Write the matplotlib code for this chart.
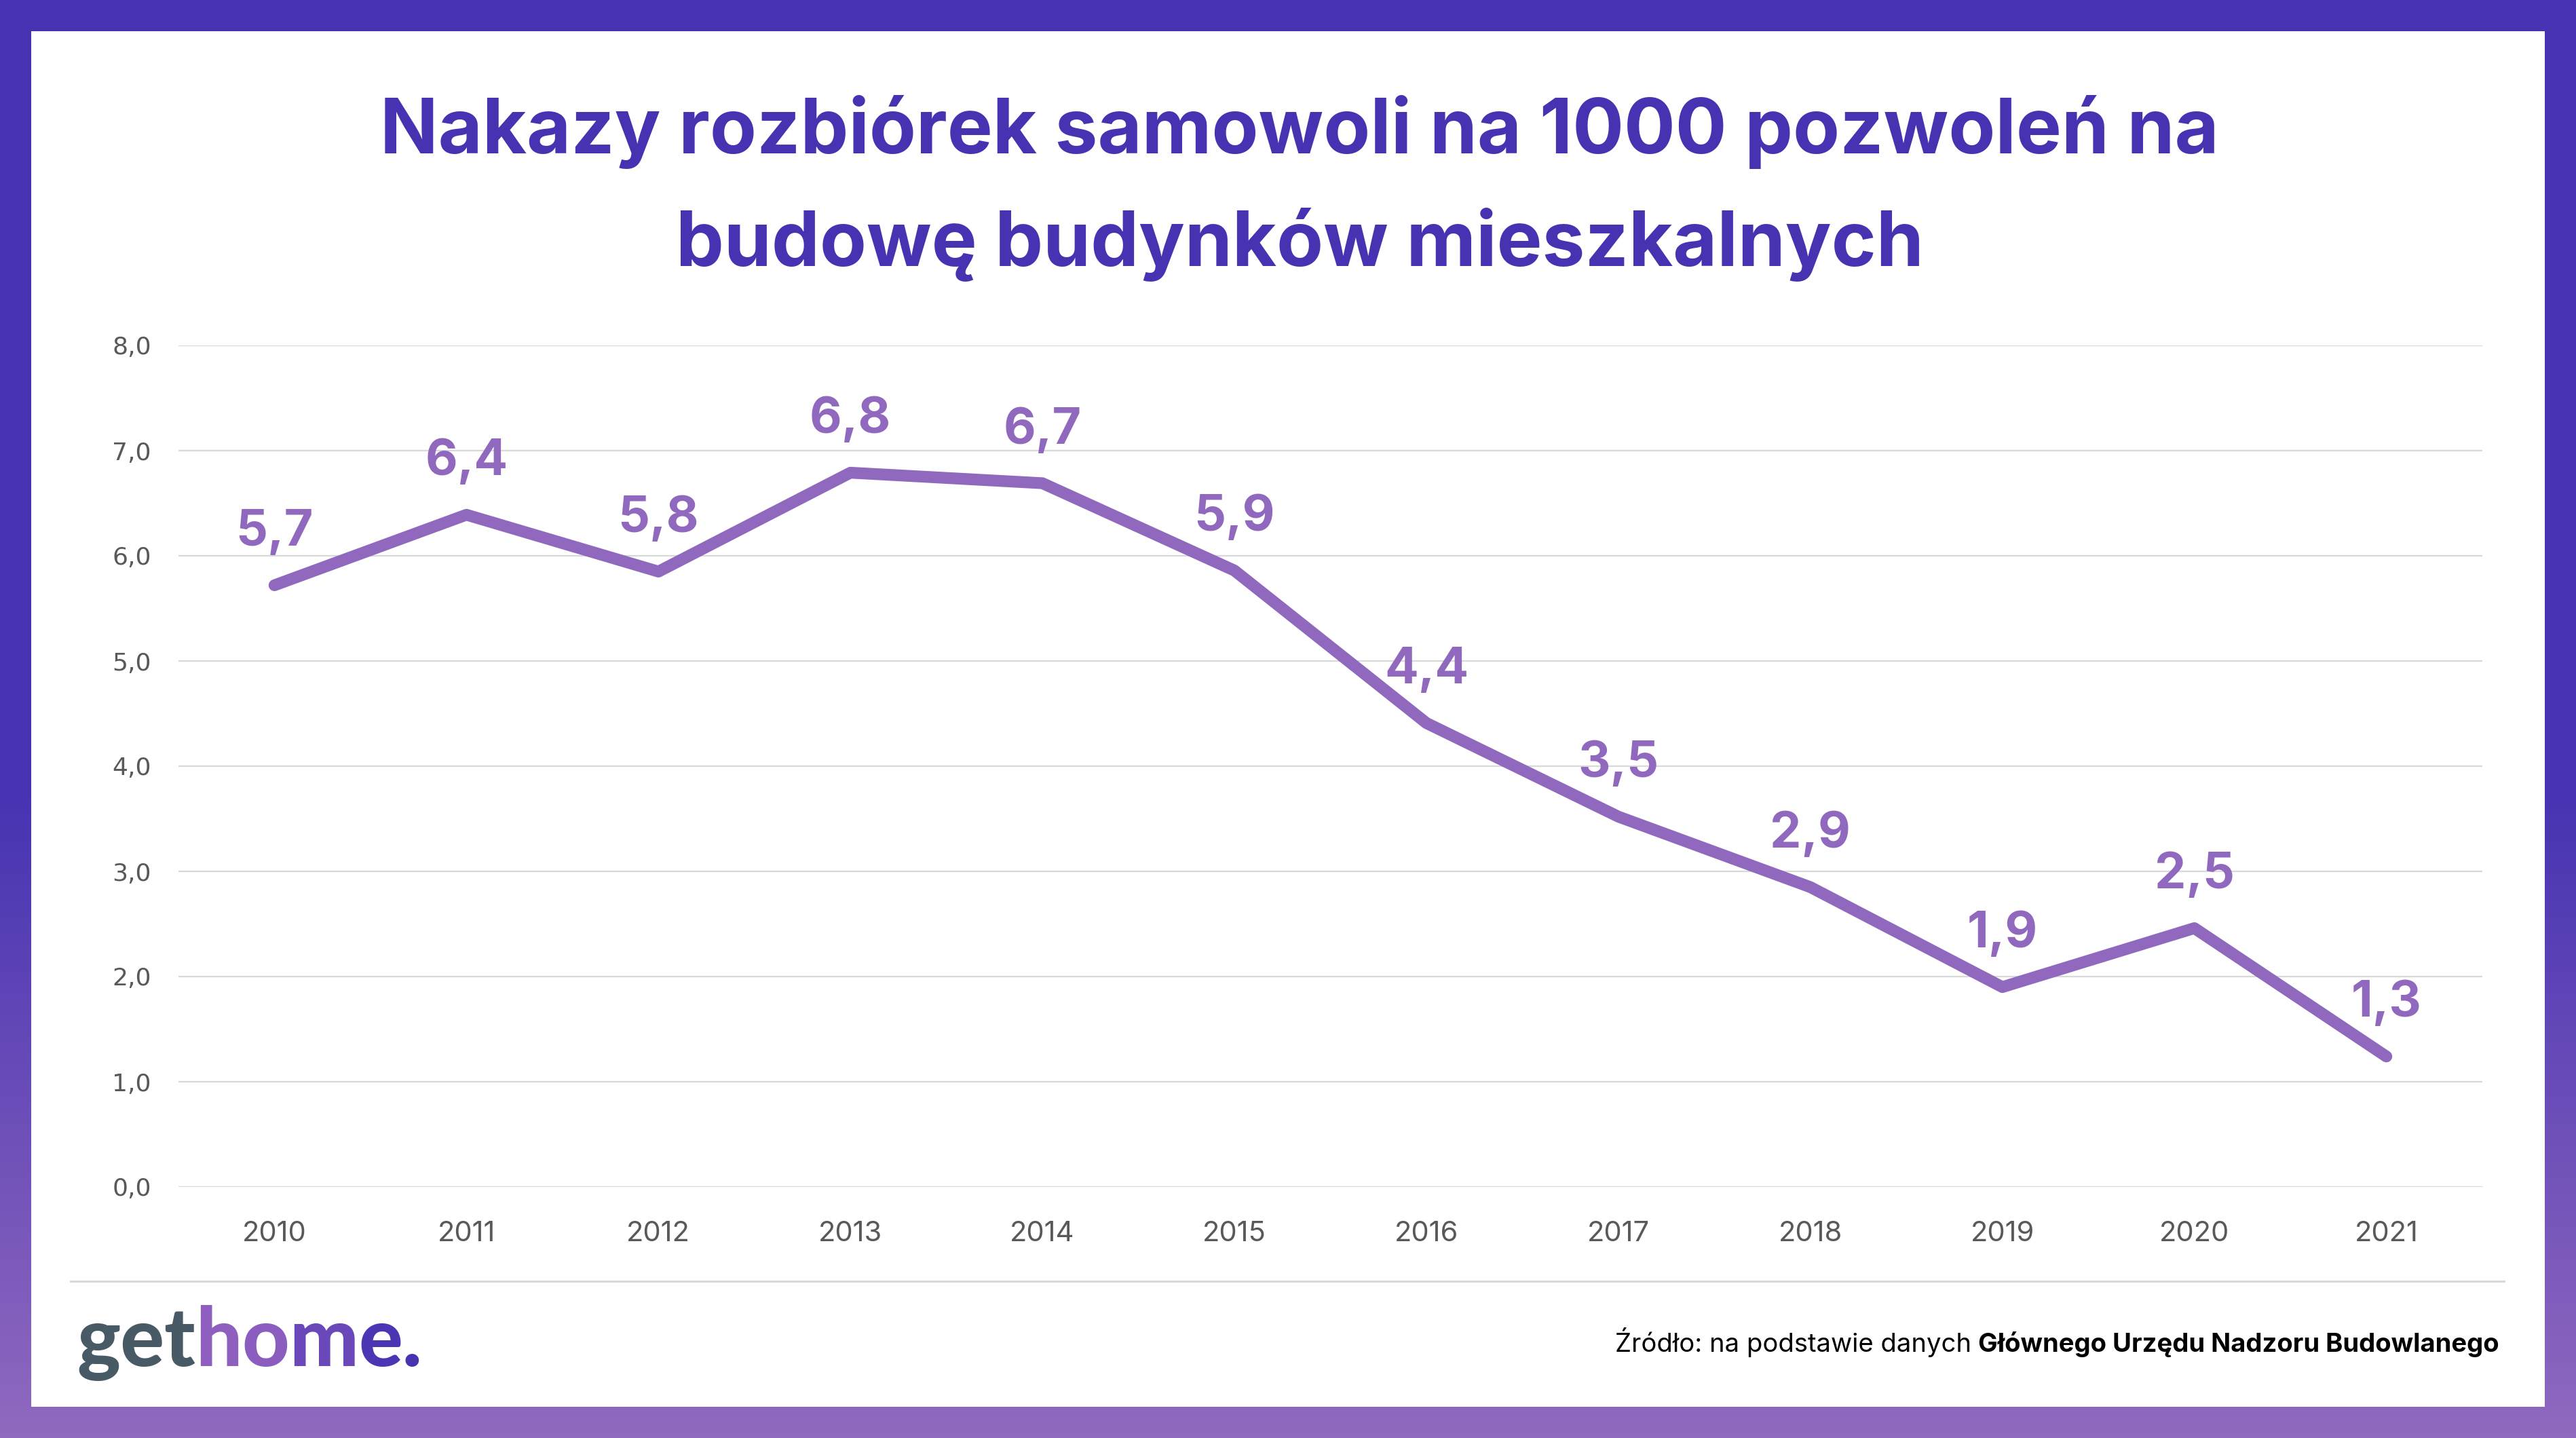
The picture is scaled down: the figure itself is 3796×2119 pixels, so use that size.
import numpy as np
import matplotlib
matplotlib.use("Agg")
import matplotlib.pyplot as plt
from matplotlib.colors import LinearSegmentedColormap
from matplotlib.patches import Rectangle

# data
years = ['2010', '2011', '2012', '2013', '2014', '2015',
         '2016', '2017', '2018', '2019', '2020', '2021']
values = [5.72, 6.39, 5.85, 6.79, 6.69, 5.86, 4.41, 3.52, 2.85, 1.90, 2.46, 1.24]
value_labels = ['5,7', '6,4', '5,8', '6,8', '6,7', '5,9',
                '4,4', '3,5', '2,9', '1,9', '2,5', '1,3']
yticks = [0, 1, 2, 3, 4, 5, 6, 7, 8]
ytick_labels = ['0,0', '1,0', '2,0', '3,0', '4,0', '5,0', '6,0', '7,0', '8,0']

title_lines = ['Nakazy rozbiórek samowoli na 1000 pozwoleń na',
               'budowę budynków mieszkalnych']
source_regular = 'Źródło: na podstawie danych '
source_bold = 'Głównego Urzędu Nadzoru Budowlanego'

W, H = 3796, 2119
DPI = 100
LINE_COLOR = '#9069bf'
TITLE_COLOR = '#4733b2'

fig = plt.figure(figsize=(W / DPI, H / DPI), dpi=DPI)

# gradient frame + white card
bg = fig.add_axes([0, 0, 1, 1], zorder=-10)
cmap = LinearSegmentedColormap.from_list(
    'frame', [(0, '#4733b2'), (0.55, '#4733b2'), (1, '#9069bf')])
grad = np.linspace(0, 1, H).reshape(-1, 1)
bg.imshow(grad, aspect='auto', cmap=cmap, extent=[0, W, 0, H], origin='upper')
bg.add_patch(Rectangle((46, 46), W - 92, H - 92, color='white', lw=0))
bg.plot([104, 3690], [H - 1888, H - 1888], color='#d9d9d9', lw=2.2)
bg.set_xlim(0, W)
bg.set_ylim(0, H)
bg.axis('off')

# main chart
ax = fig.add_axes([263 / W, (H - 1749) / H, 3395 / W, 1240 / H])
ax.patch.set_visible(False)
x = np.arange(len(years))
ax.plot(x, values, color=LINE_COLOR, lw=12.5,
        solid_capstyle='round', solid_joinstyle='round', zorder=3)
ax.set_xlim(-0.5, len(years) - 0.5)
ax.set_ylim(0, 8)
ax.set_yticks(yticks)
ax.set_yticklabels(ytick_labels, fontsize=26, color='#595959', family='DejaVu Sans')
ax.set_xticks(x)
ax.set_xticklabels(years, fontsize=30, color='#595959', family='Inter')
ax.tick_params(axis='y', length=0, pad=29)
ax.tick_params(axis='x', length=0, pad=36)
ax.yaxis.grid(True, color='#d9d9d9', lw=1.6)
ax.set_axisbelow(True)
for s in ax.spines.values():
    s.set_visible(False)

for xi, v, lab in zip(x, values, value_labels):
    ax.annotate(lab, (xi, v), xytext=(0, 42), textcoords='offset points',
                ha='center', va='baseline', fontsize=53, fontweight='bold',
                color=LINE_COLOR, family='Inter')

# title
fig.text(1915 / W, 1 - 226 / H, title_lines[0], ha='center', va='baseline',
         fontsize=81, fontweight='bold', color=TITLE_COLOR, family='Inter')
fig.text(1915 / W, 1 - 392 / H, title_lines[1], ha='center', va='baseline',
         fontsize=81, fontweight='bold', color=TITLE_COLOR, family='Inter')

renderer = fig.canvas.get_renderer()

# source note
tb = fig.text(3683 / W, 1 - 1992 / H, source_bold, ha='right', va='baseline',
              fontsize=27.5, fontweight='bold', color='black', family='Inter')
bb = tb.get_window_extent(renderer)
fig.text(bb.x0 / W, 1 - 1992 / H, source_regular, ha='right', va='baseline',
         fontsize=27.5, color='black', family='Inter')

# logo
t = fig.text(113 / W, 1 - 2013 / H, 'get', ha='left', va='baseline',
             fontsize=87, fontweight='black', color='#485a66', family='Lato')
xpos = t.get_window_extent(renderer).x1
logo_colors = ['#8e5fbf', '#8a5dbe', '#6a48b9', '#4d36b3', '#4733b2']
for ch, c in zip('home.', logo_colors):
    t = fig.text(xpos / W, 1 - 2013 / H, ch, ha='left', va='baseline',
                 fontsize=87, fontweight='black', color=c, family='Lato')
    xpos = t.get_window_extent(renderer).x1

fig.savefig('out.png', dpi=DPI)
